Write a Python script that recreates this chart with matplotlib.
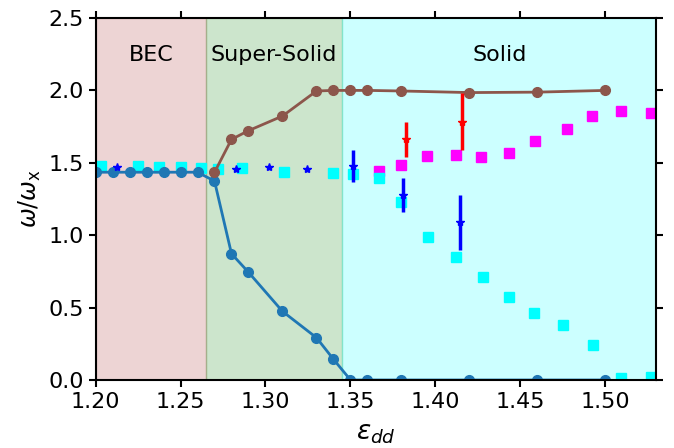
import numpy as np
import matplotlib
matplotlib.use('Agg')
import matplotlib.pyplot as plt

# frequencies of the lowest modes vs eps_dd

# mean field, two branches
eps_low = [1.20, 1.21, 1.22, 1.23, 1.24, 1.25, 1.26, 1.27, 1.28, 1.29, 1.31, 1.33, 1.34, 1.35, 1.36, 1.38, 1.42, 1.46, 1.50]
w_low = [1.435, 1.435, 1.435, 1.435, 1.435, 1.435, 1.435, 1.374, 0.872, 0.744, 0.474, 0.292, 0.143, 0.0, 0.0, 0.0, 0.0, 0.0, 0.0]

eps_high = [1.27, 1.28, 1.29, 1.31, 1.33, 1.34, 1.35, 1.36, 1.38, 1.42, 1.46, 1.50]
w_high = [1.434, 1.662, 1.722, 1.823, 1.996, 2.0, 2.0, 2.0, 1.996, 1.985, 1.988, 2.0]

# simulation points
eps_cyan = [1.203, 1.225, 1.2375, 1.25, 1.262, 1.272, 1.286, 1.311, 1.340, 1.3515, 1.367, 1.380, 1.3955, 1.412, 1.428, 1.443, 1.458, 1.475, 1.4927, 1.5094, 1.527]
w_cyan = [1.479, 1.479, 1.472, 1.472, 1.467, 1.457, 1.462, 1.434, 1.432, 1.421, 1.398, 1.230, 0.990, 0.850, 0.709, 0.576, 0.465, 0.380, 0.242, 0.012, 0.019]

eps_mag = [1.367, 1.380, 1.3948, 1.4123, 1.4269, 1.443, 1.4583, 1.4774, 1.4919, 1.5094, 1.527]
w_mag = [1.44, 1.483, 1.548, 1.555, 1.543, 1.571, 1.652, 1.731, 1.82, 1.855, 1.845]

# experiment-like points with error bars
eps_blue = [1.2127, 1.2825, 1.302, 1.3244, 1.3515, 1.381, 1.4142]
w_blue = [1.474, 1.457, 1.473, 1.455, 1.48, 1.278, 1.09]
err_blue = [0.0, 0.0, 0.0, 0.0, 0.11, 0.12, 0.19]

eps_red = [1.3829, 1.4155]
w_red = [1.663, 1.785]
err_red = [0.12, 0.2]

# phases
phases = ['BEC', 'Super-Solid', 'Solid']
bounds = [1.20, 1.265, 1.345, 1.53]
phase_col = ['brown', 'green', 'cyan']

plt.rcParams['font.size'] = 16

fig = plt.figure(figsize=(6.74, 4.48), dpi=100)
ax = fig.add_axes([0.1417, 0.1518, 0.8323, 0.808])

i = 0
while i < len(phases):
    ax.axvspan(bounds[i], bounds[i+1], color=phase_col[i], alpha=0.2)
    ax.text((bounds[i]+bounds[i+1])/2, 2.245, phases[i], ha='center', va='center', fontsize=16)
    i += 1

ax.plot(eps_mag, w_mag, 's', color='magenta', ms=7)
ax.plot(eps_cyan, w_cyan, 's', color='cyan', ms=7)
ax.plot(eps_low, w_low, 'o-', color='tab:blue', ms=7, lw=2)
ax.plot(eps_high, w_high, 'o-', color='tab:brown', ms=7, lw=2)
ax.errorbar(eps_blue, w_blue, yerr=err_blue, fmt='*', color='blue', ms=6, elinewidth=2.5, capsize=0)
ax.errorbar(eps_red, w_red, yerr=err_red, fmt='*', color='red', ms=6, elinewidth=2.5, capsize=0)

ax.set_xlim(1.20, 1.53)
ax.set_ylim(0, 2.5)
ax.set_xticks([1.20, 1.25, 1.30, 1.35, 1.40, 1.45, 1.50])
ax.set_yticks([0.0, 0.5, 1.0, 1.5, 2.0, 2.5])
ax.tick_params(direction='out', top=True, right=True, length=5, width=1.5, labelsize=16)
for s in ax.spines.values():
    s.set_linewidth(1.5)

ax.set_xlabel(r'$\varepsilon_{dd}$', fontsize=19, labelpad=6)
ax.set_ylabel(r'$\omega/\omega_{\mathrm{x}}$', fontsize=17)

fig.savefig('out.png', dpi=100)
